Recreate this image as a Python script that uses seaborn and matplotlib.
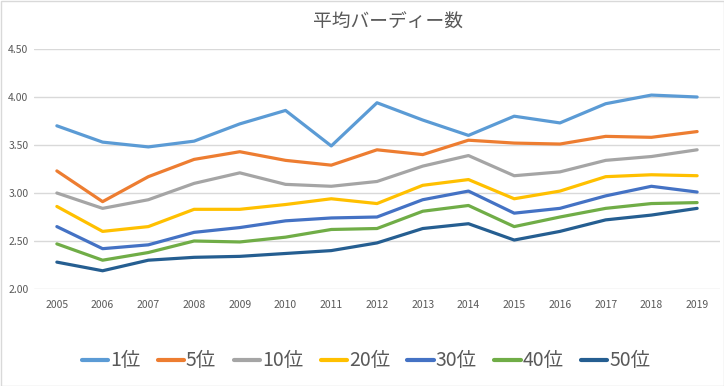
import matplotlib
matplotlib.use("Agg")
import matplotlib.pyplot as plt
import seaborn as sns
import pandas as pd
from matplotlib.lines import Line2D

years = [str(y) for y in range(2005, 2020)]
series_names = ["1位", "5位", "10位", "20位", "30位", "40位", "50位"]
v1 = [3.70, 3.53, 3.48, 3.54, 3.72, 3.86, 3.49, 3.94, 3.76, 3.60, 3.80, 3.73, 3.93, 4.02, 4.00]
v5 = [3.23, 2.91, 3.17, 3.35, 3.43, 3.34, 3.29, 3.45, 3.40, 3.55, 3.52, 3.51, 3.59, 3.58, 3.64]
v10 = [3.00, 2.84, 2.93, 3.10, 3.21, 3.09, 3.07, 3.12, 3.28, 3.39, 3.18, 3.22, 3.34, 3.38, 3.45]
v20 = [2.86, 2.60, 2.65, 2.83, 2.83, 2.88, 2.94, 2.89, 3.08, 3.14, 2.94, 3.02, 3.17, 3.19, 3.18]
v30 = [2.65, 2.42, 2.46, 2.59, 2.64, 2.71, 2.74, 2.75, 2.93, 3.02, 2.79, 2.84, 2.97, 3.07, 3.01]
v40 = [2.47, 2.30, 2.38, 2.50, 2.49, 2.54, 2.62, 2.63, 2.81, 2.87, 2.65, 2.75, 2.84, 2.89, 2.90]
v50 = [2.28, 2.19, 2.30, 2.33, 2.34, 2.37, 2.40, 2.48, 2.63, 2.68, 2.51, 2.60, 2.72, 2.77, 2.84]
values = [v1, v5, v10, v20, v30, v40, v50]
colors = ["#5B9BD5", "#ED7D31", "#A5A5A5", "#FFC000", "#4472C4", "#70AD47", "#255E91"]
yticks = [2.00, 2.50, 3.00, 3.50, 4.00, 4.50]

rows = []
for name, vals in zip(series_names, values):
    for i, (yr, v) in enumerate(zip(years, vals)):
        rows.append({"idx": i, "year": yr, "value": v, "series": name})
df = pd.DataFrame(rows)

sns.set_style("white")
plt.rcParams["font.family"] = ["Noto Sans CJK JP", "DejaVu Sans"]

fig = plt.figure(figsize=(7.24, 3.86), dpi=100)
ax = fig.add_axes([34 / 724, 1 - 289 / 386, (720 - 34) / 724, (289 - 49) / 386])

sns.lineplot(data=df, x="idx", y="value", hue="series", hue_order=series_names,
             palette=colors, linewidth=2.3, ax=ax, legend=False)

ax.set_xlim(-0.5, len(years) - 0.5)
ax.set_ylim(2.0, 4.5)
ax.set_xticks(range(len(years)))
ax.set_xticklabels(years)
ax.set_yticks(yticks)
ax.set_yticklabels([f"{t:.2f}" for t in yticks])
ax.tick_params(axis="both", length=0, labelsize=7.5, colors="#595959")
ax.tick_params(axis="x", pad=8)
ax.tick_params(axis="y", pad=4)
ax.grid(axis="y", color="#D9D9D9", linewidth=1)
ax.set_axisbelow(True)
for s in ax.spines.values():
    s.set_visible(False)
ax.set_xlabel("")
ax.set_ylabel("")

fig.text(388 / 724, 1 - 22 / 386, "平均バーディー数", ha="center", va="center",
         fontsize=13.5, color="#595959")

handles = [Line2D([0], [0], color=c, linewidth=3) for c in colors]
fig.legend(handles, series_names, loc="center", bbox_to_anchor=(366 / 724, 1 - 361 / 386),
           ncol=7, frameon=False, fontsize=14, handlelength=1.35, handletextpad=0.1,
           columnspacing=0.9, labelcolor="#595959")

border = plt.Rectangle((0.5 / 724, 0.5 / 386), 1 - 1 / 724, 1 - 1 / 386, transform=fig.transFigure,
                       fill=False, edgecolor="#D9D9D9", linewidth=1)
fig.patches.append(border)

fig.savefig("out.png", dpi=100)
